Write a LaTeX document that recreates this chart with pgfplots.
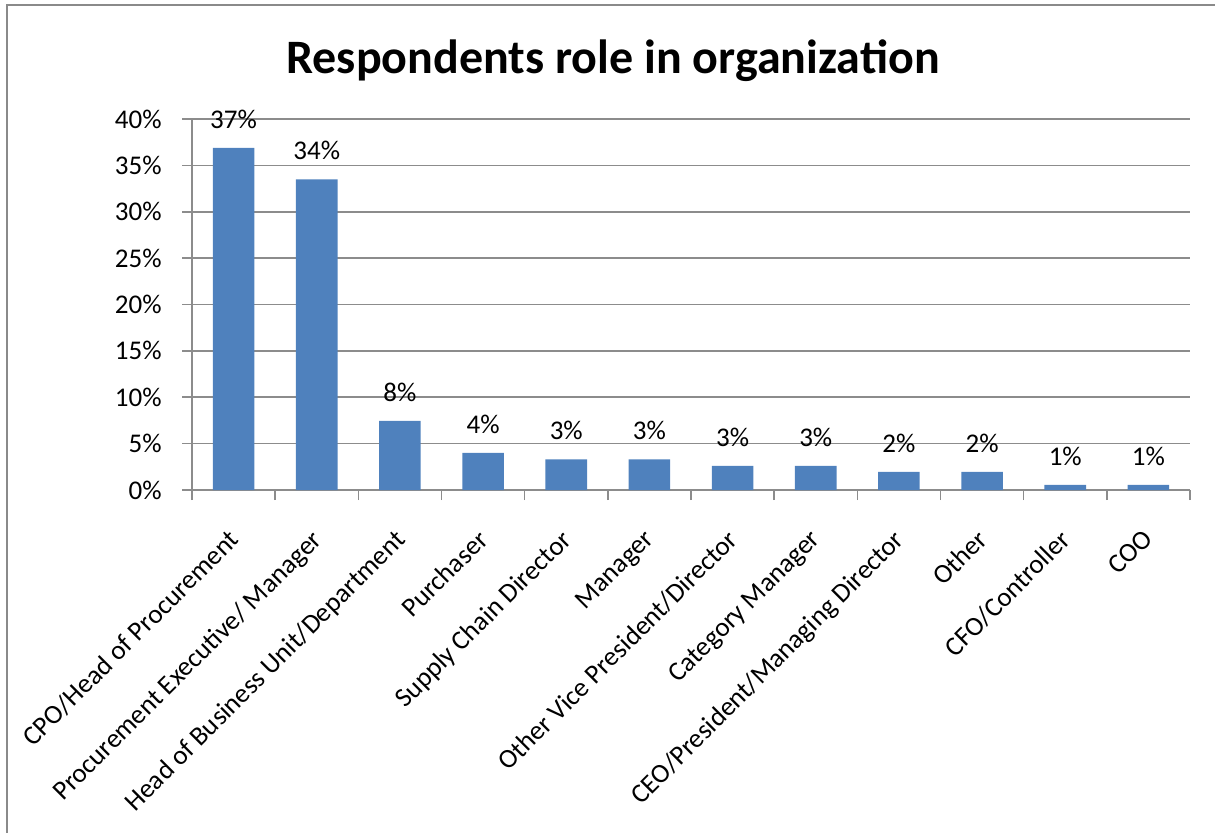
\documentclass[border=0pt]{standalone}
\usepackage{pgfplots}
\pgfplotsset{compat=1.18}
\usepackage{fontspec}
\setmainfont{Carlito}
\definecolor{barblue}{HTML}{4F81BD}
\definecolor{gridgray}{HTML}{8C8C8C}
\definecolor{framegray}{HTML}{8A8A8A}
\pgfplotstableread{
x y lab
0 36.9 37
1 33.5 34
2 7.45 8
3 4.0 4
4 3.3 3
5 3.3 3
6 2.6 3
7 2.6 3
8 1.95 2
9 1.95 2
10 0.55 1
11 0.55 1
}\datatable
\begin{document}
\begin{tikzpicture}
\useasboundingbox (0,0) rectangle (607.5pt,-416pt);
\draw[framegray, line width=1pt] (3.5pt,-420pt) -- (3.5pt,-2.5pt) -- (607.5pt,-2.5pt);
\node[font=\bfseries\fontsize{24}{28}\selectfont, anchor=base] at (306.5pt,-36.5pt) {Respondents role in organization};
\begin{axis}[
  at={(96pt,-245pt)}, anchor=south west,
  scale only axis, width=499pt, height=185.5pt,
  xmin=-0.5, xmax=11.5, ymin=0, ymax=40,
  ybar, bar width=20.8pt,
  axis x line*=bottom, axis y line*=left,
  axis line style={gridgray, line width=0.8pt},
  ymajorgrids, grid style={gridgray, line width=0.8pt},
  tick align=outside, major tick length=5pt, minor tick length=5pt,
  ytick={0,5,...,40},
  yticklabels={0\%,5\%,10\%,15\%,20\%,25\%,30\%,35\%,40\%},
  yticklabel style={font=\fontsize{13.5}{16}\selectfont, anchor=east, inner sep=0pt, xshift=-10pt},
  ytick style={gridgray, line width=0.8pt},
  xtick={0,...,11},
  xticklabels={CPO/Head of Procurement,Procurement Executive/ Manager,Head of Business Unit/Department,Purchaser,Supply Chain Director,Manager,Other Vice President/Director,Category Manager,CEO/President/Managing Director,Other,CFO/Controller,COO},
  xticklabel style={font=\fontsize{13.5}{16}\selectfont, inner sep=0pt, xshift=-3.3pt, yshift=-13.8pt, rotate=45, anchor=north east},
  major x tick style={draw=none},
  minor xtick={-0.5,0.5,...,11.5},
  minor x tick style={gridgray, line width=0.8pt},
  point meta=explicit symbolic,
  nodes near coords={\pgfplotspointmeta\%},
  nodes near coords style={font=\fontsize{13.5}{16}\selectfont, black, anchor=south, inner sep=0pt, yshift=9.5pt},
]
\addplot[fill=barblue, draw=none] table[x=x, y=y, meta=lab] {\datatable};
\end{axis}
\end{tikzpicture}
\end{document}
